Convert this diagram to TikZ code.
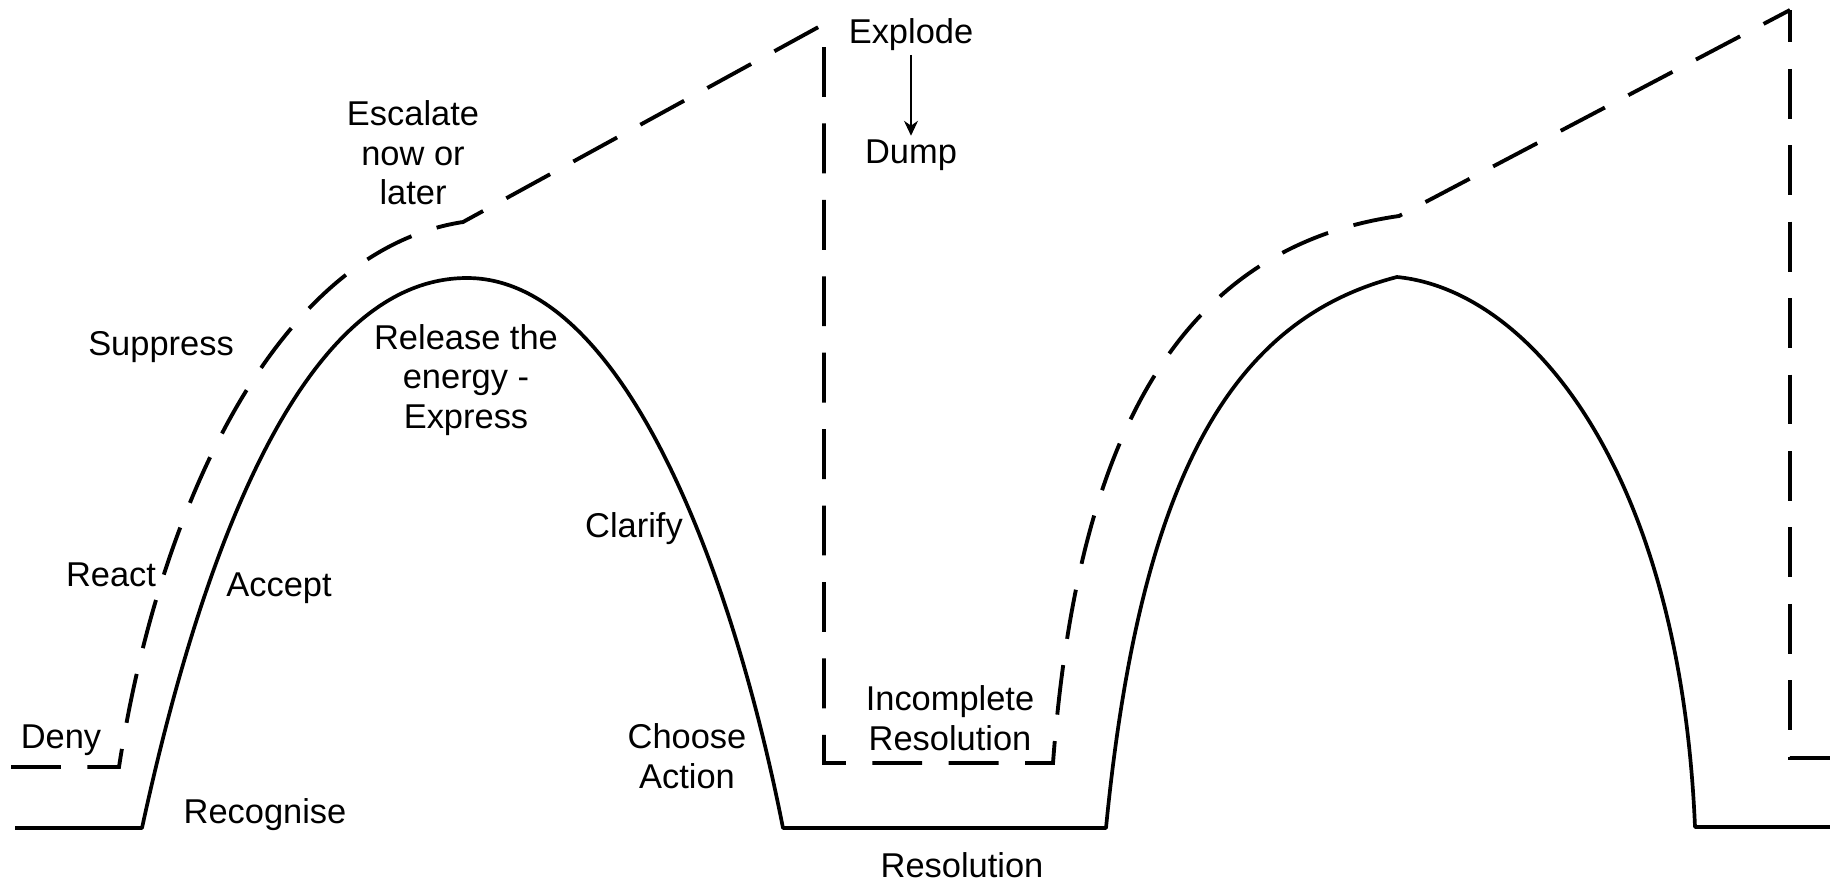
\documentclass[tikz,border=0pt]{standalone}
\usepackage{fontspec}
\setmainfont{Liberation Sans}
\usetikzlibrary{arrows.meta}
\begin{document}
\begin{tikzpicture}[x=0.02cm,y=-0.02cm,
  lbl/.style={font=\fontsize{19.6}{22.5}\selectfont, align=center, inner sep=2pt},
  curve/.style={line width=2.1pt, line join=round},
  dashcurve/.style={line width=2.2pt, line join=miter, dash pattern=on 28.4pt off 15.1pt},
  thinarrow/.style={line width=0.6pt, -{Stealth[length=8.5pt,width=8pt]}}]
\useasboundingbox (0,0) rectangle (1830,883);
% solid path
\draw[curve] (15,828) -- (142,828)
  .. controls (200,560) and (300,278) .. (467,278)
  .. controls (620,278) and (730,560) .. (783,828)
  -- (1106,828)
  .. controls (1140,480) and (1230,320) .. (1397,277)
  .. controls (1530,290) and (1680,470) .. (1695,827)
  -- (1830,827);
% dashed path
\draw[dashcurve] (11,767) -- (119,767)
  .. controls (160,500) and (280,250) .. (463,222)
  -- (824,24);
\draw[dashcurve, dash phase=30.4pt] (824,24) -- (824,763) -- (1053,763)
  .. controls (1075,470) and (1160,250) .. (1399,216)
  -- (1790,10);
\draw[dashcurve, dash phase=10pt] (1790,10) -- (1790,758) -- (1830,758);
% labels
\node[lbl] (explode) at (911,35) {Explode};
\node[lbl] (dump) at (911,155) {Dump};
\node[lbl] (escalate) at (413,153) {Escalate\\now or\\later};
\node[lbl] (suppress) at (161,347) {Suppress};
\node[lbl] (release) at (466,380) {Release the\\energy -\\Express};
\node[lbl] (react) at (111,575) {React};
\node[lbl] (accept) at (279,588) {Accept};
\node[lbl] (deny) at (61,740) {Deny};
\node[lbl] (recognise) at (265,815) {Recognise};
\node[lbl] (clarify) at (634,529) {Clarify};
\node[lbl] (choose) at (687,756) {Choose\\Action};
\node[lbl] (incomplete) at (950,718) {Incomplete\\Resolution};
\node[lbl] (resolution) at (962,865) {Resolution};
\draw[thinarrow] (explode) -- (dump);
\end{tikzpicture}
\end{document}
